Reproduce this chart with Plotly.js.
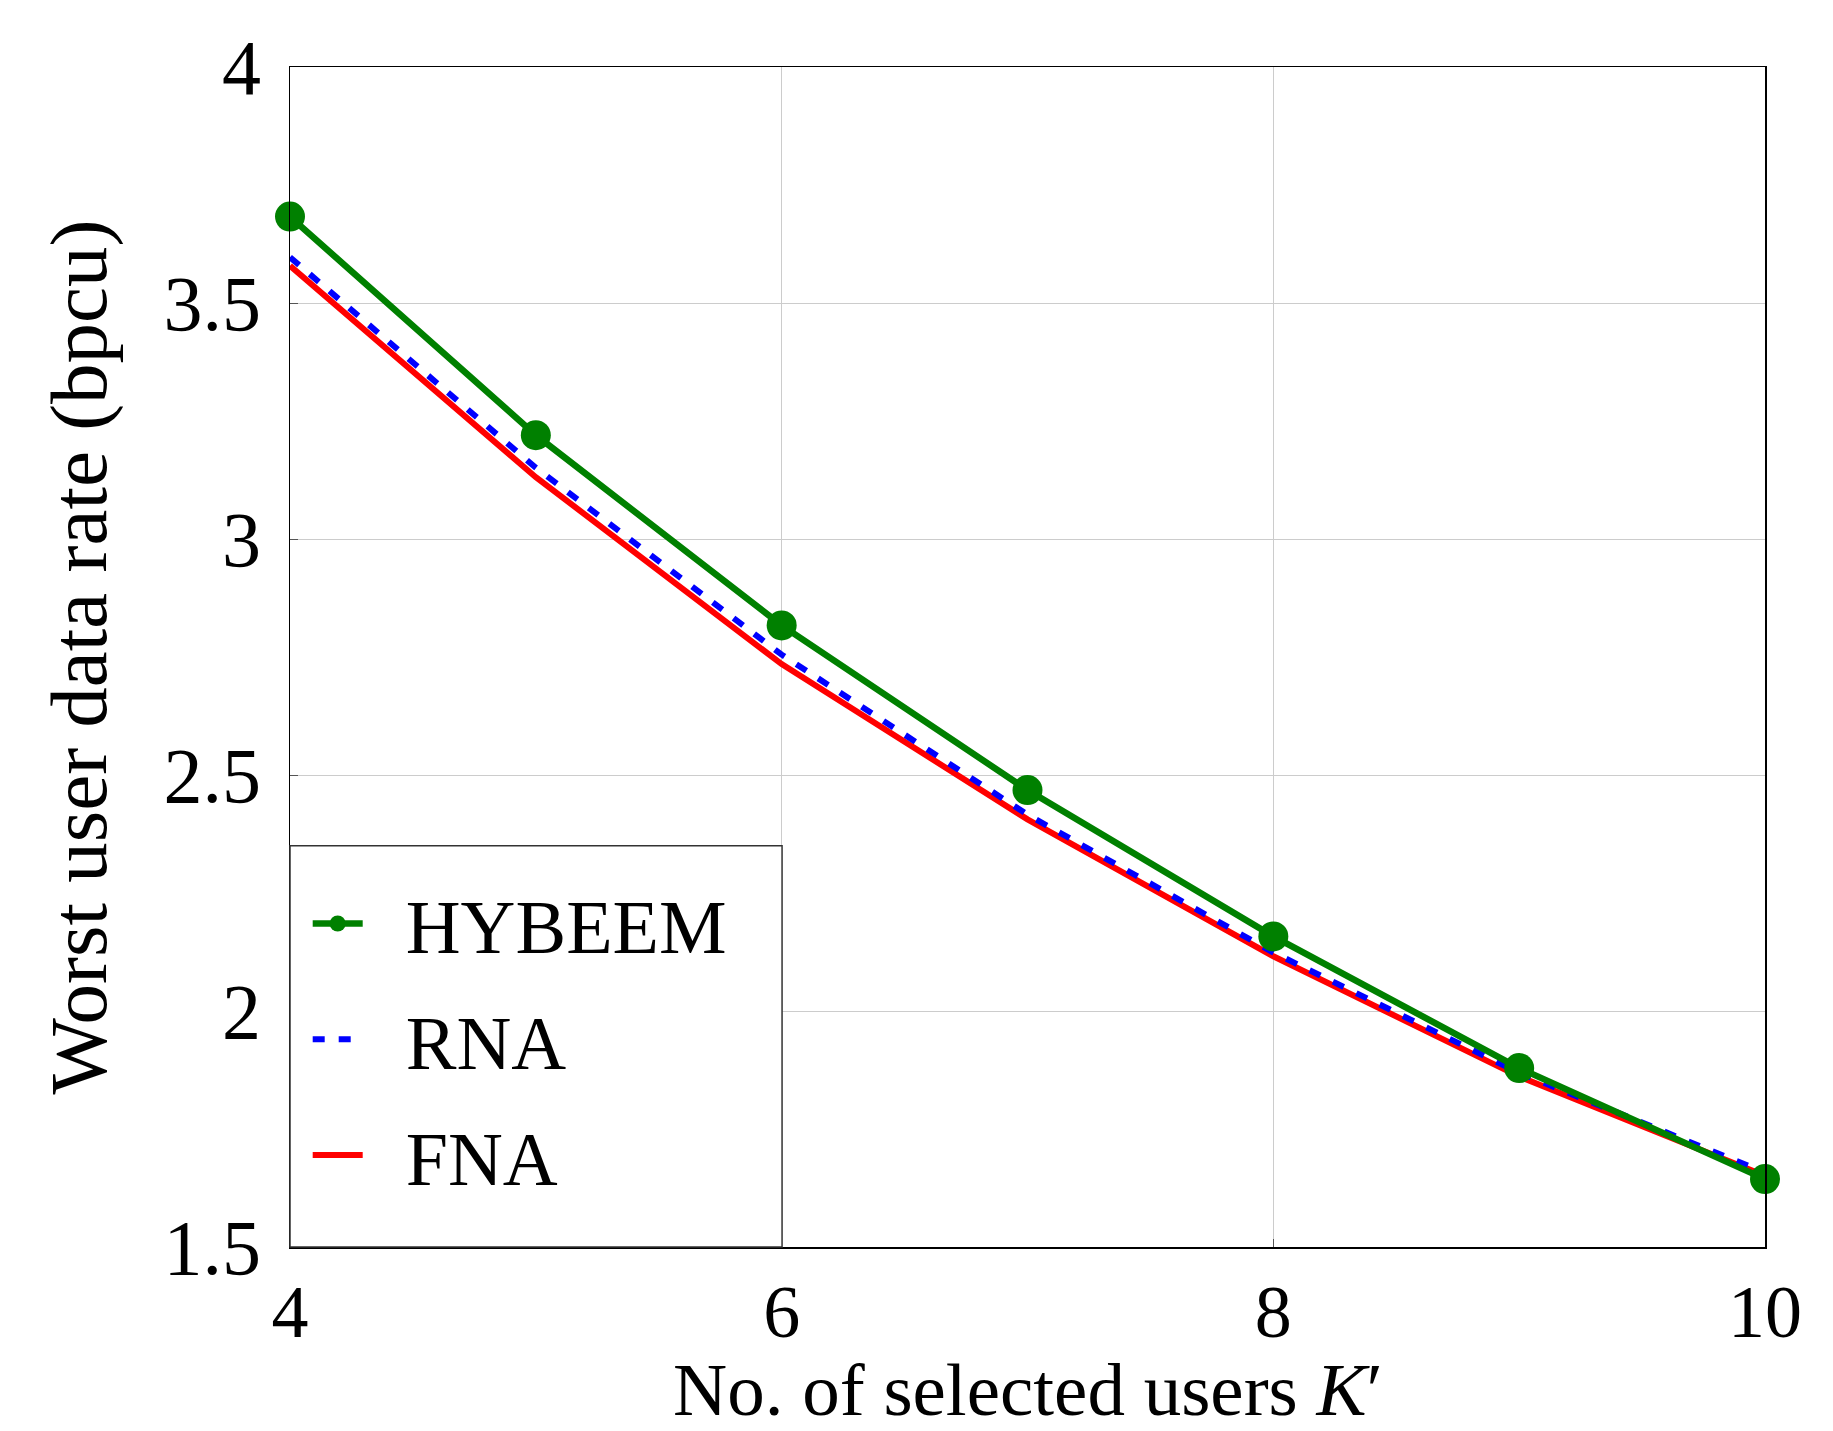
<!DOCTYPE html>
<html>
<head>
<meta charset="utf-8">
<script src="https://cdn.plot.ly/plotly-3.0.1.min.js"></script>
<style>html,body{margin:0;padding:0;background:#fff;}#chart{width:1833px;height:1431px;}</style>
</head>
<body>
<div id="chart"></div>
<script>
const users = [4, 5, 6, 7, 8, 9, 10];
const hybeem = [3.683, 3.22, 2.817, 2.468, 2.158, 1.879, 1.644];
const rna = [3.597, 3.151, 2.755, 2.416, 2.124, 1.869, 1.658];
const fna = [3.579, 3.131, 2.735, 2.406, 2.116, 1.861, 1.651];
const xTicks = [4, 6, 8, 10];
const yTicks = [1.5, 2, 2.5, 3, 3.5, 4];
const yTickText = ['1.5', '2', '2.5', '3', '3.5', '4'];
const seriesNames = ['HYBEEM', 'RNA', 'FNA'];
const xTitle = 'No. of selected users <i>K</i>′';
const yTitle = 'Worst user data rate (bpcu)';

const FONT = 'Liberation Serif, Times New Roman, serif';
const GAP = '\u2002';

const traces = [
  {x: users, y: hybeem, name: GAP + seriesNames[0], mode: 'lines+markers', legendgroup: 'a', legendrank: 1,
   cliponaxis: false, line: {color: '#008000', width: 6.5}, marker: {color: '#008000', size: 30}},
  {x: users, y: rna, name: GAP + seriesNames[1], mode: 'lines', legendgroup: 'b', legendrank: 2,
   cliponaxis: false, line: {color: '#0000ff', width: 6, dash: '12px,14px'}},
  {x: users, y: fna, name: GAP + seriesNames[2], mode: 'lines', legendgroup: 'c', legendrank: 3,
   cliponaxis: false, line: {color: '#ff0000', width: 6}}
];
// draw order: FNA first, then RNA, then HYBEEM on top
const drawOrder = [traces[2], traces[1], traces[0]];

const layout = {
  width: 1833, height: 1431,
  margin: {l: 290, r: 68, t: 67, b: 184},
  paper_bgcolor: '#fff', plot_bgcolor: '#fff',
  font: {family: FONT, color: '#000', size: 75},
  showlegend: true,
  legend: {x: 0.012, y: 0.03, xanchor: 'left', yanchor: 'bottom',
    bgcolor: 'rgba(0,0,0,0)', borderwidth: 0, font: {family: FONT, size: 76},
    itemwidth: 50, tracegroupgap: 14, traceorder: 'grouped'},
  xaxis: {range: [4, 10], tickvals: xTicks, ticktext: xTicks.map(String),
    showgrid: true, gridcolor: '#cccccc', gridwidth: 1,
    showline: true, linecolor: '#000', linewidth: 1.5, mirror: true,
    ticks: 'inside', ticklen: 8, tickcolor: '#555', zeroline: false,
    tickfont: {family: FONT, size: 74}},
  yaxis: {range: [1.5, 4], tickvals: yTicks, ticktext: yTickText,
    showgrid: true, gridcolor: '#cccccc', gridwidth: 1,
    showline: true, linecolor: '#000', linewidth: 1.5, mirror: true,
    ticks: 'inside', ticklen: 8, tickcolor: '#555', zeroline: false,
    ticklabelstandoff: 12,
    tickfont: {family: FONT, size: 78},
    title: {text: yTitle, font: {family: FONT, size: 81}, standoff: 30}},
  annotations: [{text: xTitle, xref: 'paper', yref: 'paper', x: 0.5, y: -0.1205,
    xanchor: 'center', yanchor: 'middle', showarrow: false,
    font: {family: FONT, size: 75, color: '#000'}}],
  shapes: [{type: 'rect', xref: 'paper', yref: 'paper', x0: 0, x1: 0.3336, y0: 0, y1: 0.34,
    fillcolor: '#fff', line: {color: '#333', width: 1.5}, layer: 'above'}]
};

Plotly.newPlot('chart', drawOrder, layout, {displayModeBar: false, staticPlot: true});
</script>
</body>
</html>
